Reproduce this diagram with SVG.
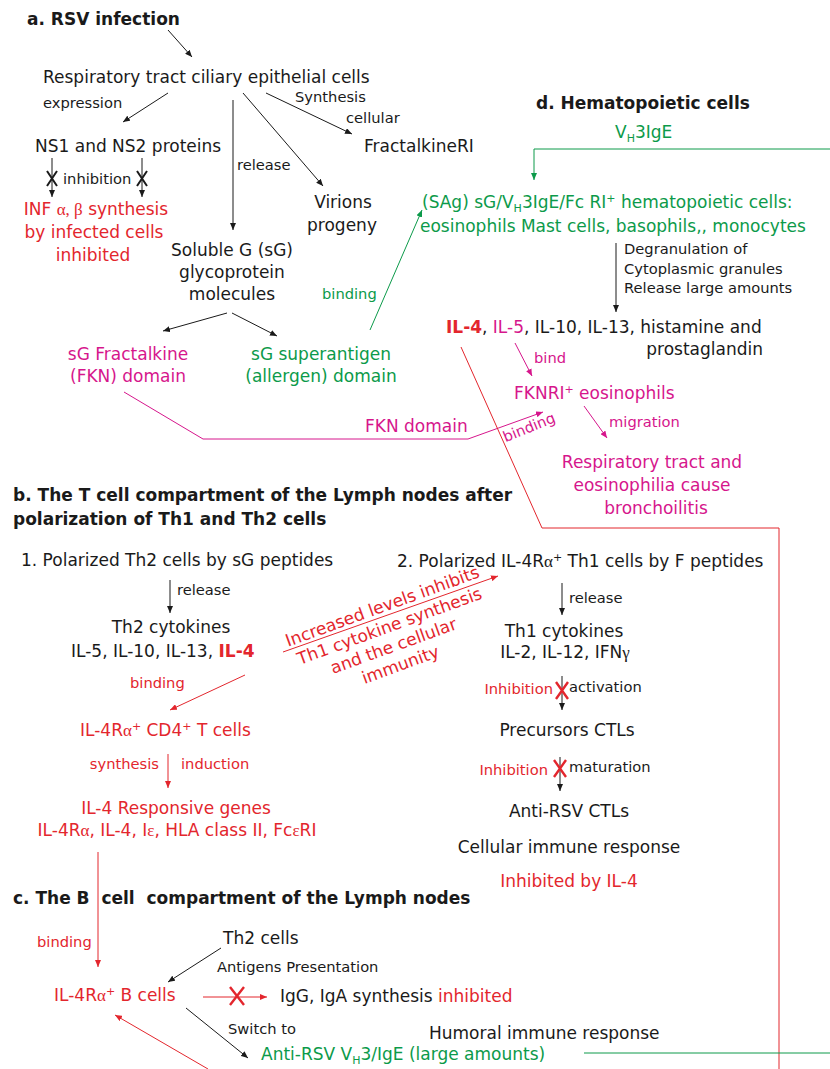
<svg xmlns="http://www.w3.org/2000/svg" width="830" height="1069" viewBox="0 0 830 1069">
<style>
text{font-family:"DejaVu Sans","Liberation Sans",sans-serif;font-size:17px;fill:#1a1a1a}
.s{font-size:14.7px}
.h{font-weight:bold;font-size:17px}
.r{fill:#e3262d}
.m{fill:#d6168c}
.g{fill:#0c9a4a}
.k{fill:#1a1a1a}
.m2{text-anchor:middle}
.e{text-anchor:end}
.gr{font-family:"Liberation Serif",serif}
.pre{white-space:pre}
.lk{stroke:#1a1a1a;stroke-width:1;fill:none}
.lr{stroke:#e3262d;stroke-width:1;fill:none}
.lm{stroke:#d6168c;stroke-width:1;fill:none}
.lg{stroke:#0c9a4a;stroke-width:1;fill:none}
.xk{stroke:#1a1a1a;stroke-width:2;fill:none}
.xr{stroke:#e3262d;stroke-width:2.4;fill:none}
</style>
<defs>
<marker id="ak" markerWidth="8" markerHeight="6" refX="7" refY="3" orient="auto" markerUnits="userSpaceOnUse"><path d="M0,0 L7,3 L0,6 z" fill="#1a1a1a"/></marker>
<marker id="ar" markerWidth="8" markerHeight="6" refX="7" refY="3" orient="auto" markerUnits="userSpaceOnUse"><path d="M0,0 L7,3 L0,6 z" fill="#e3262d"/></marker>
<marker id="am" markerWidth="8" markerHeight="6" refX="7" refY="3" orient="auto" markerUnits="userSpaceOnUse"><path d="M0,0 L7,3 L0,6 z" fill="#d6168c"/></marker>
<marker id="ag" markerWidth="8" markerHeight="6" refX="7" refY="3" orient="auto" markerUnits="userSpaceOnUse"><path d="M0,0 L7,3 L0,6 z" fill="#0c9a4a"/></marker>
</defs>

<g id="connectors">
<!-- section a -->
<line class="lk" x1="168" y1="30" x2="192" y2="57" marker-end="url(#ak)"/>
<line class="lk" x1="168" y1="93" x2="123" y2="122" marker-end="url(#ak)"/>
<line class="lk" x1="233" y1="100" x2="233" y2="230" marker-end="url(#ak)"/>
<line class="lk" x1="243" y1="93" x2="323" y2="186" marker-end="url(#ak)"/>
<line class="lk" x1="266" y1="93" x2="352" y2="134" marker-end="url(#ak)"/>
<line class="lk" x1="52" y1="158" x2="52" y2="197" marker-end="url(#ak)"/>
<line class="lk" x1="142" y1="158" x2="142" y2="197" marker-end="url(#ak)"/>
<path class="xk" d="M47,171 L57,186 M57,171 L47,186"/>
<path class="xk" d="M137,171 L147,186 M147,171 L137,186"/>
<line class="lk" x1="227" y1="313" x2="163" y2="331" marker-end="url(#ak)"/>
<line class="lk" x1="232" y1="313" x2="277" y2="336" marker-end="url(#ak)"/>
<line class="lg" x1="370" y1="330" x2="422" y2="210" marker-end="url(#ag)"/>
<polyline class="lm" points="124,392 203,439 468,439 543,412" marker-end="url(#am)"/>
<!-- section d -->
<polyline class="lg" points="830,149 534,149 534,180" marker-end="url(#ag)"/>
<line class="lk" x1="616" y1="243" x2="616" y2="312" marker-end="url(#ak)"/>
<line class="lm" x1="515" y1="343" x2="532" y2="376" marker-end="url(#am)"/>
<line class="lm" x1="584" y1="406" x2="607" y2="438" marker-end="url(#am)"/>
<polyline class="lr" points="461,347 542,528 779,528 779,1069"/>
<!-- section b -->
<line class="lk" x1="170" y1="580" x2="170" y2="613" marker-end="url(#ak)"/>
<line class="lr" x1="283" y1="652" x2="498" y2="576" marker-end="url(#ar)"/>
<line class="lk" x1="562" y1="583" x2="562" y2="615" marker-end="url(#ak)"/>
<line class="lk" x1="562" y1="676" x2="562" y2="710" marker-end="url(#ak)"/>
<path class="xr" d="M556,682 L568,699 M568,682 L556,699"/>
<line class="lk" x1="560" y1="757" x2="560" y2="791" marker-end="url(#ak)"/>
<path class="xr" d="M554,760 L566,777 M566,760 L554,777"/>
<line class="lr" x1="245" y1="675" x2="170" y2="710" marker-end="url(#ar)"/>
<line class="lr" x1="168" y1="754" x2="168" y2="788" marker-end="url(#ar)"/>
<line class="lr" x1="98" y1="852" x2="98" y2="967" marker-end="url(#ar)"/>
<!-- section c -->
<line class="lk" x1="221" y1="948" x2="168" y2="982" marker-end="url(#ak)"/>
<line class="lr" x1="203" y1="997" x2="267" y2="997" marker-end="url(#ar)"/>
<path class="xr" d="M230,987 L244,1005 M244,987 L230,1005"/>
<line class="lk" x1="186" y1="1008" x2="248" y2="1058" marker-end="url(#ak)"/>
<line class="lg" x1="584" y1="1053" x2="830" y2="1053"/>
<line class="lr" x1="208" y1="1069" x2="115" y2="1015" marker-end="url(#ar)"/>
</g>

<g id="section-a">
<text class="h" x="27" y="25">a. RSV infection</text>
<g id="epithelial"><text x="43" y="83">Respiratory tract ciliary epithelial cells</text></g>
<text class="s" x="43" y="108">expression</text>
<text class="s" x="295" y="102">Synthesis</text>
<text class="s" x="346" y="123">cellular</text>
<g id="ns"><text x="35" y="152">NS1 and NS2 proteins</text></g>
<g id="fractalkineRI"><text x="364" y="152">FractalkineRI</text></g>
<text class="s" x="237" y="170">release</text>
<text class="s" x="63" y="184">inhibition</text>
<g id="virions"><text class="m2" x="343" y="208">Virions</text><text class="m2" x="342" y="231">progeny</text></g>
<g id="inf"><text class="r m2" x="96" y="215">INF <tspan class="gr">α, β</tspan> synthesis</text>
<text class="r m2" x="94" y="238">by infected cells</text>
<text class="r m2" x="93" y="261">inhibited</text></g>
<g id="soluble"><text class="m2" x="232" y="256">Soluble G (sG)</text>
<text class="m2" x="232" y="278">glycoprotein</text>
<text class="m2" x="232" y="300">molecules</text></g>
<text class="s g" x="322" y="299">binding</text>
<g id="fkn"><text class="m m2" x="128" y="360">sG Fractalkine</text><text class="m m2" x="128" y="382">(FKN) domain</text></g>
<g id="superantigen"><text class="g m2" x="321" y="360">sG superantigen</text><text class="g m2" x="321" y="382">(allergen) domain</text></g>
<text class="m" x="365" y="432">FKN domain</text>
</g>

<g id="section-d">
<text class="h" x="536" y="109">d. Hematopoietic cells</text>
<text class="g" x="615" y="138">V<tspan font-size="11" baseline-shift="-4">H</tspan>3IgE</text>
<g id="hematopoietic"><text class="g" x="422" y="208">(SAg) sG/V<tspan font-size="11" baseline-shift="-4">H</tspan>3IgE/Fc RI<tspan font-size="11" baseline-shift="6">+</tspan> hematopoietic cells:</text>
<text class="g" x="420" y="232">eosinophils Mast cells, basophils,, monocytes</text></g>
<text class="s" x="624" y="254">Degranulation of</text>
<text class="s" x="624" y="274">Cytoplasmic granules</text>
<text class="s" x="624" y="293">Release large amounts</text>
<g id="cytokines-d"><text x="446" y="333"><tspan class="r" font-weight="bold">IL-4</tspan>, <tspan class="m">IL-5</tspan>, IL-10, IL-13, histamine and</text>
<text class="e" x="763" y="355">prostaglandin</text></g>
<text class="s m" x="534" y="363">bind</text>
<g id="fknri"><text class="m" x="514" y="399">FKNRI<tspan font-size="11" baseline-shift="6">+</tspan> eosinophils</text></g>
<text class="s m" x="609" y="427">migration</text>
<text class="s m m2" transform="rotate(-22 531 432)" x="531" y="432">binding</text>
<g id="bronch"><text class="m m2" x="652" y="468">Respiratory tract and</text>
<text class="m m2" x="652" y="491">eosinophilia cause</text>
<text class="m m2" x="656" y="514">bronchoilitis</text></g>
</g>

<g id="section-b">
<text class="h" x="13" y="501">b. The T cell compartment of the Lymph nodes after</text>
<text class="h" x="13" y="525">polarization of Th1 and Th2 cells</text>
<g id="th2"><text x="21" y="566">1. Polarized Th2 cells by sG peptides</text></g>
<text class="s" x="177" y="595">release</text>
<g id="th2-cytokines"><text class="m2" x="171" y="633">Th2 cytokines</text>
<text x="71" y="657">IL-5, IL-10, IL-13, <tspan class="r" font-weight="bold">IL-4</tspan></text></g>
<g transform="translate(391,636) rotate(-20)">
<text class="r m2" font-size="15.5" x="2" y="-25">Increased levels inhibits</text>
<text class="r m2" font-size="15.5" x="2" y="-4">Th1 cytokine synthesis</text>
<text class="r m2" font-size="15.5" x="-1" y="16">and the cellular</text>
<text class="r m2" font-size="15.5" x="-1" y="36">immunity</text>
</g>
<g id="th1"><text x="397" y="567">2. Polarized IL-4R<tspan class="gr">α</tspan><tspan font-size="11" baseline-shift="6">+</tspan> Th1 cells by F peptides</text></g>
<text class="s" x="569" y="603">release</text>
<g id="th1-cytokines"><text class="m2" x="564" y="637">Th1 cytokines</text>
<text class="m2" x="565" y="658">IL-2, IL-12, IFN<tspan class="gr">γ</tspan></text></g>
<text class="s r e" x="553" y="694">Inhibition</text>
<text class="s" x="569" y="692">activation</text>
<g id="precursors"><text class="m2" x="567" y="736">Precursors CTLs</text></g>
<text class="s r e" x="548" y="775">Inhibition</text>
<text class="s" x="569" y="772">maturation</text>
<g id="ctls"><text class="m2" x="569" y="817">Anti-RSV CTLs</text>
<text class="m2" x="569" y="853">Cellular immune response</text>
<text class="r m2" x="569" y="887">Inhibited by IL-4</text></g>
<text class="s r" x="130" y="688">binding</text>
<g id="cd4"><text class="r" x="80" y="736">IL-4R<tspan class="gr">α</tspan><tspan font-size="11" baseline-shift="6">+</tspan>  CD4<tspan font-size="11" baseline-shift="6">+</tspan> T cells</text></g>
<text class="s r e" x="159" y="769">synthesis</text>
<text class="s r" x="181" y="769">induction</text>
<g id="genes"><text class="r m2" x="176" y="814">IL-4 Responsive genes</text>
<text class="r m2" x="177" y="836">IL-4R<tspan class="gr">α</tspan>, IL-4, I<tspan class="gr">ε</tspan>, HLA class II, Fc<tspan class="gr">ε</tspan>RI</text></g>
</g>

<g id="section-c">
<text class="h pre" x="13" y="904">c. The B  cell  compartment of the Lymph nodes</text>
<text class="s r" x="37" y="947">binding</text>
<g id="th2cells"><text x="223" y="944">Th2 cells</text></g>
<text class="s" x="217" y="972">Antigens Presentation</text>
<g id="bcells"><text class="r" x="54" y="1001">IL-4R<tspan class="gr">α</tspan><tspan font-size="11" baseline-shift="6">+</tspan> B cells</text></g>
<g id="igg"><text x="280" y="1002">IgG, IgA synthesis <tspan class="r">inhibited</tspan></text></g>
<text class="s" x="228" y="1034">Switch to</text>
<g id="ige"><text class="g" x="261" y="1060">Anti-RSV V<tspan font-size="11" baseline-shift="-4">H</tspan>3/IgE (large amounts)</text></g>
<text x="429" y="1039">Humoral immune response</text>
</g>
</svg>
